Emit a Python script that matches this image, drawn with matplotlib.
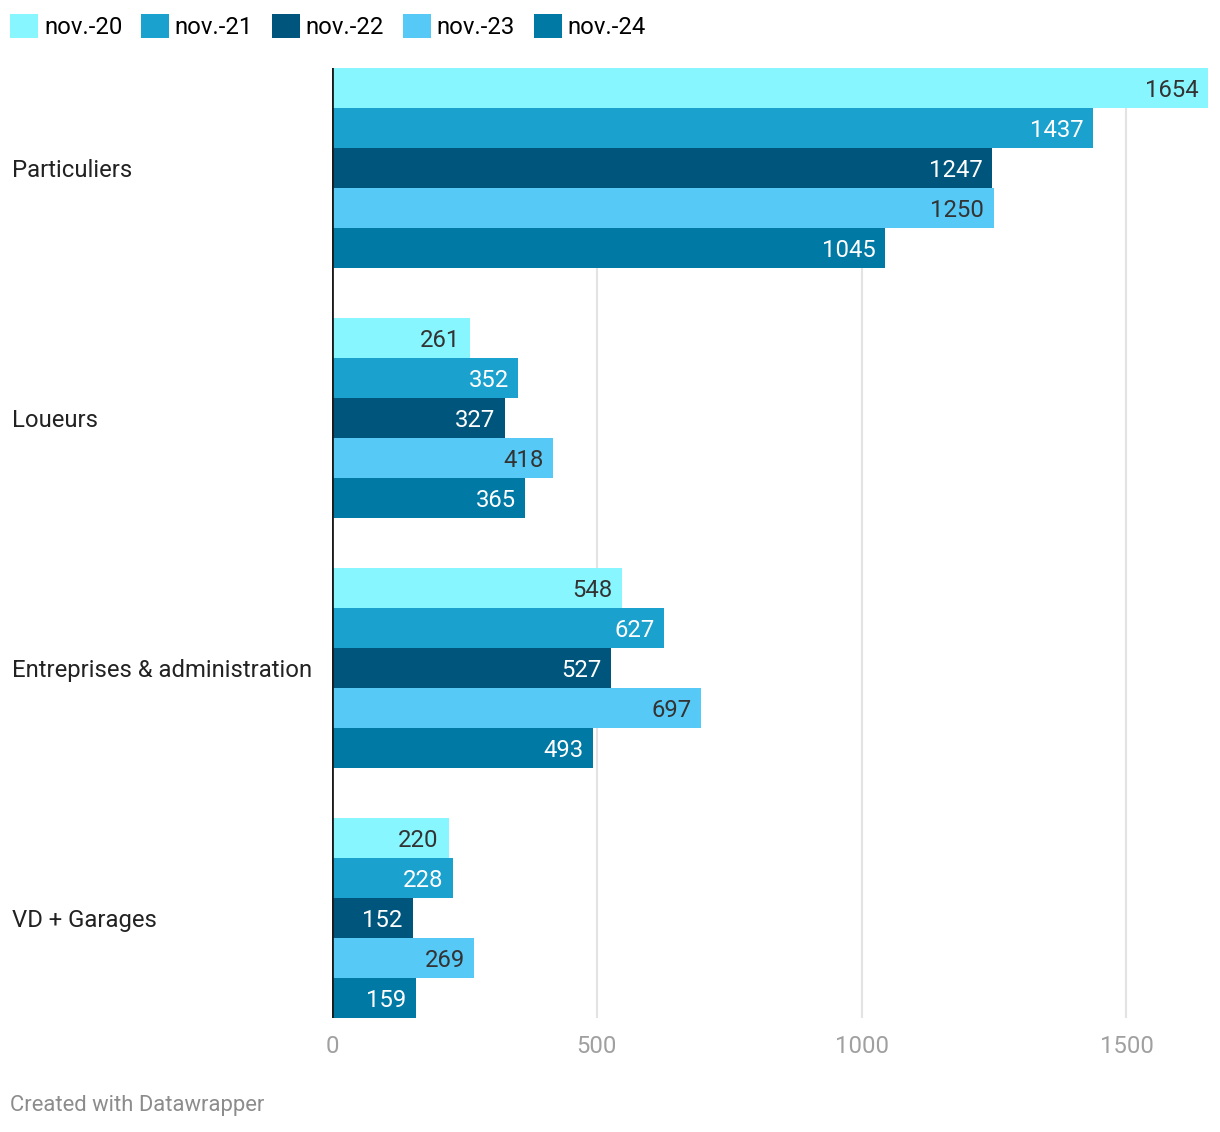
import numpy as np
import matplotlib.pyplot as plt
from matplotlib.patches import Patch
from matplotlib import transforms

plt.rcParams['font.family'] = ['Roboto', 'DejaVu Sans']

categories = ['Particuliers', 'Loueurs', 'Entreprises & administration', 'VD + Garages']
series = ['nov.-20', 'nov.-21', 'nov.-22', 'nov.-23', 'nov.-24']
values = {
    'nov.-20': [1654, 261, 548, 220],
    'nov.-21': [1437, 352, 627, 228],
    'nov.-22': [1247, 327, 527, 152],
    'nov.-23': [1250, 418, 697, 269],
    'nov.-24': [1045, 365, 493, 159],
}
colors = ['#88f6fe', '#1aa1ce', '#00557c', '#56c9f6', '#0079a5']
label_colors = ['#333333', 'white', 'white', '#333333', 'white']
xticks = [0, 500, 1000, 1500]

FS = 17.2
W, H = 1220, 1132
fig = plt.figure(figsize=(W / 100, H / 100), dpi=100)
ax = fig.add_axes([332 / W, 1 - 1018 / H, (1208 - 332) / W, (1018 - 68) / H])

group_step = 6.25
for j, (s, c, lc) in enumerate(zip(series, colors, label_colors)):
    ys = np.arange(len(categories)) * group_step + j + 0.5
    bars = ax.barh(ys, values[s], height=1.0, color=c, zorder=2)
    for b, v in zip(bars, values[s]):
        ax.annotate(str(v), (v, b.get_y() + 0.5), xytext=(-7, -1.5),
                    textcoords='offset points', ha='right', va='center',
                    fontsize=FS, color=lc, zorder=3)

ax.set_xlim(0, 1654)
ax.set_ylim(len(categories) * group_step - 1.25, 0)
for x in xticks[1:]:
    ax.axvline(x, color='#e3e3e3', lw=1.5, zorder=1)
ax.axvline(0, color='#1a1a1a', lw=2, zorder=4)

ax.set_xticks(xticks)
ax.set_xticklabels([str(t) for t in xticks], fontsize=FS, color='#a0a0a0')
ax.tick_params(axis='x', length=0, pad=12)
ax.set_yticks([])
for sp in ax.spines.values():
    sp.set_visible(False)

trans = transforms.blended_transform_factory(fig.transFigure, ax.transData)
for i, cat in enumerate(categories):
    ax.annotate(cat, (12 / W, i * group_step + 2.5), xycoords=trans,
                xytext=(0, -1.5), textcoords='offset points', ha='left',
                va='center', fontsize=FS, color='#222222')

handles = [Patch(facecolor=c, label=s) for s, c in zip(series, colors)]
fig.legend(handles=handles, loc='upper left', bbox_to_anchor=(4 / W, 1 - 8 / H),
           ncol=5, frameon=False, fontsize=FS, handlelength=1.17, handleheight=1.17,
           handletextpad=0.25, columnspacing=0.78, borderaxespad=0, borderpad=0.25)

fig.text(10 / W, 1 - 1106 / H, 'Created with Datawrapper', ha='left', va='center',
         fontsize=15.8, color='#8c8c8c')

fig.savefig('out.png', dpi=100)
